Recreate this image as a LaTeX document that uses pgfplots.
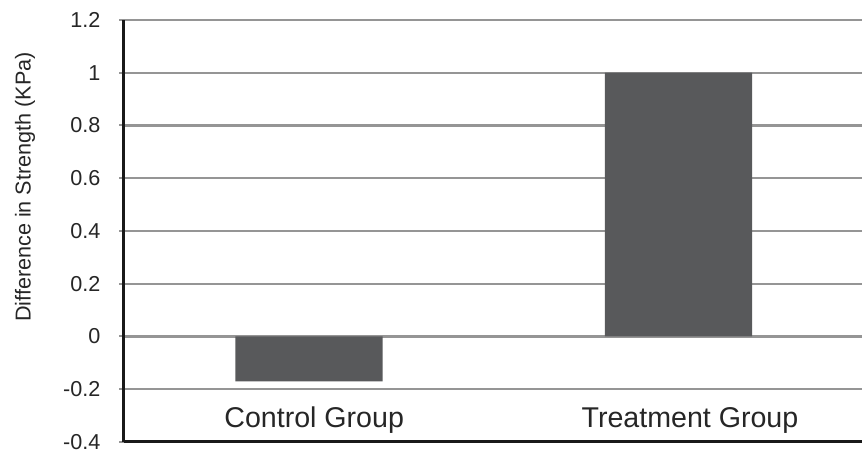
\documentclass[border=0pt]{standalone}
\usepackage{fontspec}
\setmainfont{Liberation Sans}
\usepackage{pgfplots}
\pgfplotsset{compat=1.18}
\definecolor{barc}{HTML}{58595B}
\definecolor{gridc}{HTML}{959595}
\begin{document}
\begin{tikzpicture}
\begin{axis}[
  scale only axis,
  width=369pt, height=211pt,
  xmin=-0.5007, xmax=1.4966,
  ymin=-0.4, ymax=1.2,
  ytick={-0.4,-0.2,0,0.2,0.4,0.6,0.8,1,1.2},
  yticklabels={-0.4,-0.2,0,0.2,0.4,0.6,0.8,1,1.2},
  xtick={0.014,1.031},
  xticklabels={Control Group, Treatment Group},
  x tick style={draw=none},
  xticklabel style={anchor=center, yshift=15.5pt, font=\fontsize{14.3pt}{16pt}\selectfont, text=black!85},
  yticklabel style={font=\fontsize{10.8pt}{12pt}\selectfont, xshift=-6pt, text=black!85},
  y tick style={draw=gridc, line width=1pt},
  tick align=outside,
  major tick length=4.5pt,
  axis lines=left,
  axis line style={-, line width=1.5pt, black!90},
  ymajorgrids,
  grid style={draw=gridc, line width=1.1pt},
  ylabel={Difference in Strength (KPa)},
  ylabel style={font=\fontsize{10.8pt}{12pt}\selectfont, at={(axis description cs:-0.134,0.604)}, anchor=center, rotate=0, text=black!85},
  clip=false,
  ybar, bar width=0.398,
]
\addplot[fill=barc, draw=none] coordinates {(0,-0.17) (1,1.0)};
\end{axis}
\pgfresetboundingbox
\path ([shift={(-62pt,-5.5pt)}]current axis.south west) rectangle ([shift={(0pt,10pt)}]current axis.north east);
\end{tikzpicture}
\end{document}
